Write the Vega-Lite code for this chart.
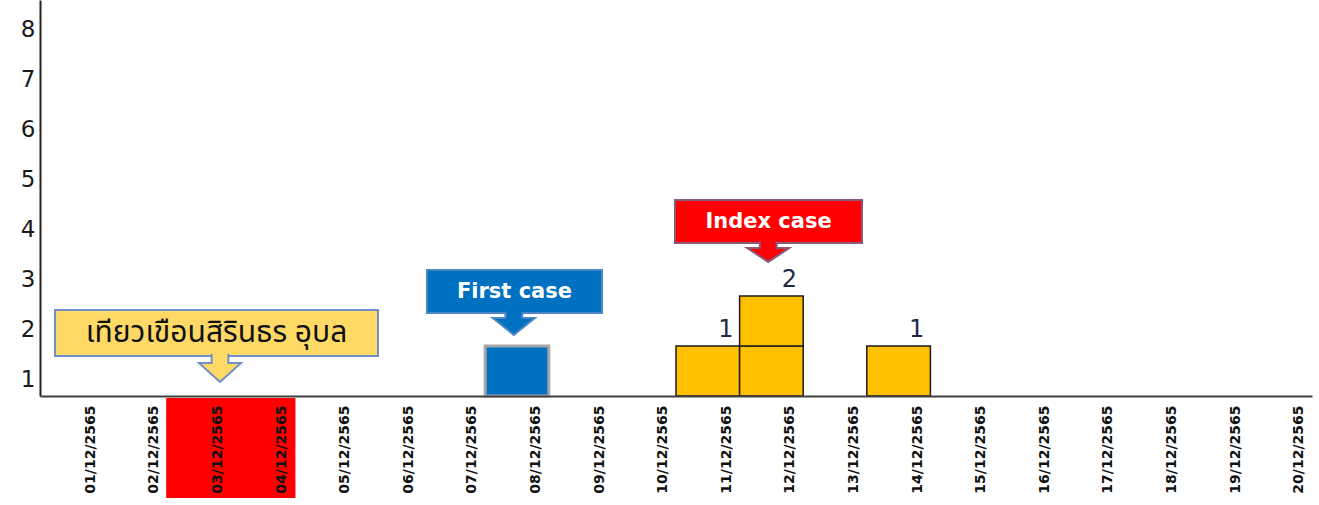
{
  "$schema": "https://vega.github.io/schema/vega-lite/v6.json",
  "width": 1272,
  "height": 396,
  "autosize": {"type": "none"},
  "padding": {"left": 40, "top": 0, "right": 7, "bottom": 109},
  "background": "white",
  "config": {"view": {"stroke": null}},
  "datasets": {
    "cases": [
      {"date": "08/12/2565", "group": "First case", "n": 1},
      {"date": "11/12/2565", "group": "Case", "n": 1},
      {"date": "12/12/2565", "group": "Case", "n": 1},
      {"date": "12/12/2565", "group": "Case", "n": 1},
      {"date": "14/12/2565", "group": "Case", "n": 1}
    ],
    "trip": [{"date": "03/12/2565"}, {"date": "04/12/2565"}]
  },
  "layer": [
    {
      "data": {"name": "cases"},
      "mark": {"type": "bar"},
      "encoding": {
        "x": {"field": "date", "type": "nominal",
          "scale": {"domain": ["01/12/2565","02/12/2565","03/12/2565","04/12/2565","05/12/2565","06/12/2565","07/12/2565","08/12/2565","09/12/2565","10/12/2565","11/12/2565","12/12/2565","13/12/2565","14/12/2565","15/12/2565","16/12/2565","17/12/2565","18/12/2565","19/12/2565","20/12/2565"], "paddingInner": 0, "paddingOuter": 0},
          "axis": {"title": null, "labelAngle": 270, "labelFont": "DejaVu Sans", "labelFontWeight": "bold", "labelFontSize": 14, "labelColor": "#111111", "labelPadding": 9, "labelOffset": 19, "ticks": false, "domainColor": "#404040", "domainWidth": 2, "labelOverlap": false, "labelBound": false, "zindex": 1}},
        "y": {"field": "n", "type": "quantitative", "stack": "zero",
          "scale": {"domain": [0, 7.92], "nice": false, "zero": false},
          "axis": {"title": null, "values": [0.34, 1.34, 2.34, 3.34, 4.34, 5.34, 6.34, 7.34], "labelExpr": "round(datum.value + 0.66)", "ticks": false, "grid": false, "domainColor": "#222222", "domainWidth": 2, "labelFont": "DejaVu Sans", "labelFontSize": 23, "labelColor": "#1a1a1a", "labelPadding": 5, "labelBound": false}},
        "fill": {"field": "group", "type": "nominal", "scale": {"domain": ["First case", "Case"], "range": ["#0070C0", "#FFC000"]}, "legend": null},
        "stroke": {"field": "group", "type": "nominal", "scale": {"domain": ["First case", "Case"], "range": ["#A6A6A6", "#1A1A1A"]}, "legend": null},
        "strokeWidth": {"condition": {"test": "datum.group === 'First case'", "value": 3}, "value": 1.5}
      }
    },
    {
      "data": {"name": "trip"},
      "mark": {"type": "bar", "fill": "#FF0000", "stroke": "#FF0000", "strokeWidth": 2},
      "encoding": {
        "x": {"field": "date", "type": "nominal", "axis": null,
          "scale": {"domain": ["01/12/2565","02/12/2565","03/12/2565","04/12/2565","05/12/2565","06/12/2565","07/12/2565","08/12/2565","09/12/2565","10/12/2565","11/12/2565","12/12/2565","13/12/2565","14/12/2565","15/12/2565","16/12/2565","17/12/2565","18/12/2565","19/12/2565","20/12/2565"], "paddingInner": 0, "paddingOuter": 0}},
        "y": {"datum": -0.06, "type": "quantitative", "scale": {"domain": [0, 7.92], "nice": false, "zero": false}},
        "y2": {"datum": -2.02}
      }
    },
    {
      "data": {"name": "cases"},
      "transform": [
        {"filter": "datum.group === 'Case'"},
        {"aggregate": [{"op": "sum", "field": "n", "as": "total"}], "groupby": ["date"]}
      ],
      "mark": {"type": "text", "dx": 18, "dy": -9, "baseline": "alphabetic", "font": "DejaVu Sans", "fontSize": 24, "color": "#1F2A44"},
      "encoding": {
        "x": {"field": "date", "type": "nominal", "axis": null,
          "scale": {"domain": ["01/12/2565","02/12/2565","03/12/2565","04/12/2565","05/12/2565","06/12/2565","07/12/2565","08/12/2565","09/12/2565","10/12/2565","11/12/2565","12/12/2565","13/12/2565","14/12/2565","15/12/2565","16/12/2565","17/12/2565","18/12/2565","19/12/2565","20/12/2565"], "paddingInner": 0, "paddingOuter": 0}},
        "y": {"field": "total", "type": "quantitative", "scale": {"domain": [0, 7.92], "nice": false, "zero": false}},
        "text": {"field": "total", "type": "quantitative"}
      }
    },
    {
      "data": {"values": [{"label": "เทียวเขือนสิรินธร อุบล"}]},
      "mark": {"type": "rect", "fill": "#FFD966", "stroke": "#6F8FC6", "strokeWidth": 2},
      "encoding": {
        "x": {"datum": 0.236, "type": "quantitative", "axis": null, "scale": {"domain": [0, 20], "nice": false, "zero": false}},
        "x2": {"datum": 5.314},
        "y": {"datum": 1.72, "type": "quantitative", "scale": {"domain": [0, 7.92], "nice": false, "zero": false}},
        "y2": {"datum": 0.8}
      }
    },
    {
      "data": {"values": [{"label": "เทียวเขือนสิรินธร อุบล"}]},
      "mark": {"type": "point", "shape": "M0.4,-0.72L0.4,-0.29L1,-0.29L0,0.62L-1,-0.29L-0.4,-0.29L-0.4,-0.72", "size": 1764, "filled": true, "fill": "#FFD966", "stroke": "#6F8FC6", "strokeWidth": 2, "opacity": 1},
      "encoding": {
        "x": {"datum": 2.83, "type": "quantitative", "axis": null, "scale": {"domain": [0, 20], "nice": false, "zero": false}},
        "y": {"datum": 0.54, "type": "quantitative", "scale": {"domain": [0, 7.92], "nice": false, "zero": false}}
      }
    },
    {
      "data": {"values": [{"label": "เทียวเขือนสิรินธร อุบล"}]},
      "mark": {"type": "text", "font": "Tahoma, 'Noto Sans Thai', 'Noto Sans', sans-serif", "fontSize": 30, "color": "#111111", "align": "center", "baseline": "middle"},
      "encoding": {
        "x": {"datum": 2.775, "type": "quantitative", "axis": null, "scale": {"domain": [0, 20], "nice": false, "zero": false}},
        "y": {"datum": 1.26, "type": "quantitative", "scale": {"domain": [0, 7.92], "nice": false, "zero": false}},
        "text": {"field": "label"}
      }
    },
    {
      "data": {"values": [{"label": "First case"}]},
      "mark": {"type": "rect", "fill": "#0070C0", "stroke": "#4A86C5", "strokeWidth": 2},
      "encoding": {
        "x": {"datum": 6.085, "type": "quantitative", "axis": null, "scale": {"domain": [0, 20], "nice": false, "zero": false}},
        "x2": {"datum": 8.836},
        "y": {"datum": 2.52, "type": "quantitative", "scale": {"domain": [0, 7.92], "nice": false, "zero": false}},
        "y2": {"datum": 1.66}
      }
    },
    {
      "data": {"values": [{"label": "First case"}]},
      "mark": {"type": "point", "shape": "M0.4,-0.6L0.4,-0.29L1,-0.29L0,0.52L-1,-0.29L-0.4,-0.29L-0.4,-0.6", "size": 1764, "filled": true, "fill": "#0070C0", "stroke": "#4A86C5", "strokeWidth": 2, "opacity": 1},
      "encoding": {
        "x": {"datum": 7.45, "type": "quantitative", "axis": null, "scale": {"domain": [0, 20], "nice": false, "zero": false}},
        "y": {"datum": 1.44, "type": "quantitative", "scale": {"domain": [0, 7.92], "nice": false, "zero": false}}
      }
    },
    {
      "data": {"values": [{"label": "First case"}]},
      "mark": {"type": "text", "font": "DejaVu Sans", "fontWeight": "bold", "fontSize": 21, "color": "#FFFFFF", "align": "center", "baseline": "middle"},
      "encoding": {
        "x": {"datum": 7.46, "type": "quantitative", "axis": null, "scale": {"domain": [0, 20], "nice": false, "zero": false}},
        "y": {"datum": 2.09, "type": "quantitative", "scale": {"domain": [0, 7.92], "nice": false, "zero": false}},
        "text": {"field": "label"}
      }
    },
    {
      "data": {"values": [{"label": "Index case"}]},
      "mark": {"type": "rect", "fill": "#FF0000", "stroke": "#8A5A7E", "strokeWidth": 2},
      "encoding": {
        "x": {"datum": 9.984, "type": "quantitative", "axis": null, "scale": {"domain": [0, 20], "nice": false, "zero": false}},
        "x2": {"datum": 12.925},
        "y": {"datum": 3.92, "type": "quantitative", "scale": {"domain": [0, 7.92], "nice": false, "zero": false}},
        "y2": {"datum": 3.06}
      }
    },
    {
      "data": {"values": [{"label": "Index case"}]},
      "mark": {"type": "point", "shape": "M0.4,-0.53L0.4,-0.21L1,-0.21L0,0.45L-1,-0.21L-0.4,-0.21L-0.4,-0.53", "size": 1764, "filled": true, "fill": "#FF0000", "stroke": "#8A5A7E", "strokeWidth": 2, "opacity": 1},
      "encoding": {
        "x": {"datum": 11.45, "type": "quantitative", "axis": null, "scale": {"domain": [0, 20], "nice": false, "zero": false}},
        "y": {"datum": 2.87, "type": "quantitative", "scale": {"domain": [0, 7.92], "nice": false, "zero": false}}
      }
    },
    {
      "data": {"values": [{"label": "Index case"}]},
      "mark": {"type": "text", "font": "DejaVu Sans", "fontWeight": "bold", "fontSize": 21, "color": "#FFFFFF", "align": "center", "baseline": "middle"},
      "encoding": {
        "x": {"datum": 11.455, "type": "quantitative", "axis": null, "scale": {"domain": [0, 20], "nice": false, "zero": false}},
        "y": {"datum": 3.49, "type": "quantitative", "scale": {"domain": [0, 7.92], "nice": false, "zero": false}},
        "text": {"field": "label"}
      }
    }
  ],
  "resolve": {"scale": {"x": "independent"}, "axis": {"x": "independent"}}
}
